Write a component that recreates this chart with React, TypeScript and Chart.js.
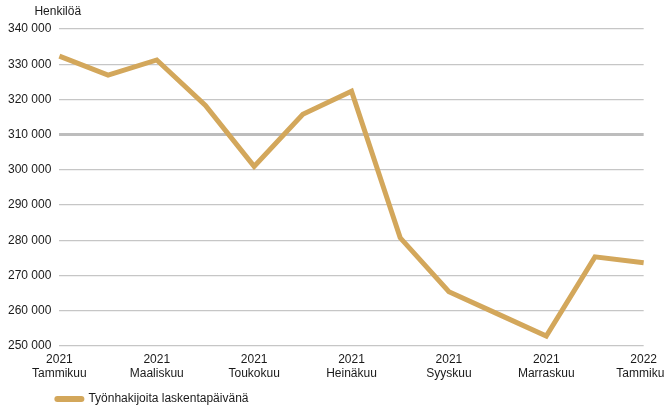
import React, { useEffect, useRef } from "react";
import { Chart, registerables } from "chart.js";

Chart.register(...registerables);

const categories: string[][] = [
  ["2021", "Tammikuu"], ["2021", "Helmikuu"], ["2021", "Maaliskuu"], ["2021", "Huhtikuu"],
  ["2021", "Toukokuu"], ["2021", "Kesäkuu"], ["2021", "Heinäkuu"], ["2021", "Elokuu"],
  ["2021", "Syyskuu"], ["2021", "Lokakuu"], ["2021", "Marraskuu"], ["2021", "Joulukuu"],
  ["2022", "Tammikuu"],
];
const seriesName = "Työnhakijoita laskentapäivänä";
const seriesValues: number[] = [
  332300, 326900, 331200, 318300, 301000, 315800, 322300, 280700, 265400, 259100, 252800, 275300, 273600,
];
const yAxisTitle = "Henkilöä";
const yMin = 250000;
const yMax = 340000;
const yStep = 10000;
const highlightedGridValue = 310000;

const LINE_COLOR = "#d3a75b";
const FONT = "'Liberation Sans', Arial, sans-serif";

const fmt = (v: number) => {
  const s = Math.round(v).toString();
  return s.replace(/\B(?=(\d{3})+(?!\d))/g, " ");
};

const extrasPlugin = {
  id: "extras",
  afterDraw(chart: any) {
    const { ctx, chartArea } = chart;
    ctx.save();
    ctx.font = `12px ${FONT}`;
    ctx.fillStyle = "#1a1a1a";
    ctx.textBaseline = "middle";
    ctx.textAlign = "left";
    ctx.fillText(yAxisTitle, chartArea.left - 25, chartArea.top - 17);
    // legend
    const ds = chart.data.datasets[0];
    const ly = chart.height - 11;
    const lx = chartArea.left - 5;
    ctx.strokeStyle = ds.borderColor;
    ctx.lineWidth = 6;
    ctx.lineCap = "round";
    ctx.beginPath();
    ctx.moveTo(lx + 3, ly);
    ctx.lineTo(lx + 27, ly);
    ctx.stroke();
    ctx.fillText(ds.label, lx + 34, ly);
    ctx.restore();
  },
};

export default function App() {
  const ref = useRef<HTMLCanvasElement>(null);
  useEffect(() => {
    if (!ref.current) return;
    const chart = new Chart(ref.current, {
      type: "line",
      data: {
        labels: categories,
        datasets: [
          {
            label: seriesName,
            data: seriesValues,
            borderColor: LINE_COLOR,
            backgroundColor: LINE_COLOR,
            borderWidth: 5,
            pointRadius: 0,
            pointHoverRadius: 0,
            tension: 0,
            fill: false,
          },
        ],
      },
      options: {
        animation: false,
        responsive: true,
        maintainAspectRatio: false,
        layout: { padding: { left: 0, top: 29, right: 0, bottom: 30 } },
        plugins: {
          legend: { display: false },
          tooltip: { enabled: false },
        },
        scales: {
          x: {
            grid: { display: false },
            border: { display: false },
            ticks: {
              autoSkip: false,
              maxRotation: 0,
              padding: -1,
              color: "#1a1a1a",
              font: { family: FONT, size: 12, lineHeight: 1.17 },
              callback: function (this: any, val: any, idx: number) {
                return idx % 2 === 0 ? this.getLabelForValue(val) : "";
              },
            },
          },
          y: {
            min: yMin,
            max: yMax,
            border: { display: false },
            grid: {
              drawTicks: false,
              color: (c: any) => (c.tick && c.tick.value === highlightedGridValue ? "#bdbdbd" : "#c6c6c6"),
              lineWidth: (c: any) => (c.tick && c.tick.value === highlightedGridValue ? 3 : 1.3),
            },
            ticks: {
              stepSize: yStep,
              padding: 8,
              color: "#1a1a1a",
              font: { family: FONT, size: 12 },
              callback: (v: any) => fmt(Number(v)),
            },
          },
        },
      },
      plugins: [extrasPlugin],
    });
    return () => chart.destroy();
  }, []);
  return (
    <div style={{ position: "absolute", left: 0, top: 0, width: 664, height: 410, overflow: "hidden", background: "#fff" }}>
      <div style={{ position: "relative", width: 670, height: 410 }}>
        <canvas ref={ref} />
      </div>
    </div>
  );
}
